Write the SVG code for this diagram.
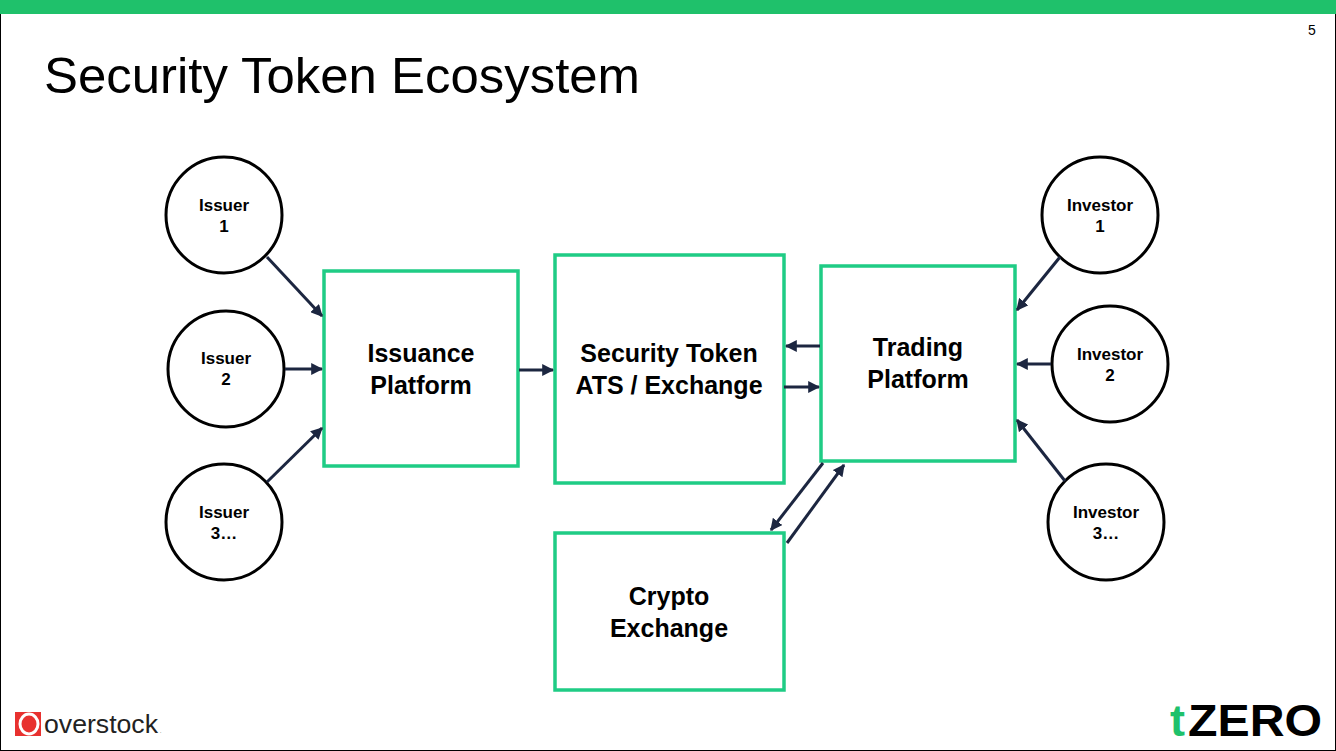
<svg xmlns="http://www.w3.org/2000/svg" width="1336" height="751" viewBox="0 0 1336 751">
<defs>
<style>
.c{fill:#fff;stroke:#000;stroke-width:3}
.b{fill:#fff;stroke:#1fcc85;stroke-width:3.5}
.ct{font-family:"Liberation Sans",Arial,sans-serif;font-weight:bold;font-size:17px;text-anchor:middle;fill:#000}
.bt{font-family:"Liberation Sans",Arial,sans-serif;font-weight:bold;font-size:25px;text-anchor:middle;fill:#000}
.a{stroke:#1c2640;stroke-width:3;fill:none;marker-end:url(#ah)}
</style>
<marker id="ah" viewBox="0 0 10 10" refX="9" refY="5" markerWidth="4" markerHeight="4" orient="auto" markerUnits="strokeWidth"><path d="M0,0L10,5L0,10z" fill="#1c2640"/></marker>
</defs>
<rect x="0.5" y="0.5" width="1335" height="750" fill="#fff" stroke="#000"/>
<rect x="0" y="0" width="1336" height="14" fill="#1fc16b"/>
<text x="1312" y="35" font-family="Liberation Sans,Arial,sans-serif" font-size="14" text-anchor="middle">5</text>
<text x="44" y="93" font-family="Liberation Sans,Arial,sans-serif" font-size="50" fill="#000" textLength="596" lengthAdjust="spacingAndGlyphs">Security Token Ecosystem</text>

<g id="issuer1"><circle class="c" cx="224" cy="215" r="58"/><text class="ct" x="224" y="211">Issuer</text><text class="ct" x="224" y="232">1</text></g>
<g id="issuer2"><circle class="c" cx="226" cy="369" r="58"/><text class="ct" x="226" y="364">Issuer</text><text class="ct" x="226" y="385">2</text></g>
<g id="issuer3"><circle class="c" cx="224" cy="522" r="58"/><text class="ct" x="224" y="518">Issuer</text><text class="ct" x="224" y="539">3…</text></g>
<g id="investor1"><circle class="c" cx="1100" cy="215" r="58"/><text class="ct" x="1100" y="211">Investor</text><text class="ct" x="1100" y="232">1</text></g>
<g id="investor2"><circle class="c" cx="1110" cy="364" r="58"/><text class="ct" x="1110" y="360">Investor</text><text class="ct" x="1110" y="381">2</text></g>
<g id="investor3"><circle class="c" cx="1106" cy="522" r="58"/><text class="ct" x="1106" y="518">Investor</text><text class="ct" x="1106" y="539">3…</text></g>

<g id="issuance"><rect class="b" x="324" y="271" width="194" height="195"/><text class="bt" x="421" y="362">Issuance</text><text class="bt" x="421" y="394">Platform</text></g>
<g id="ats"><rect class="b" x="555" y="255" width="229" height="228"/><text class="bt" x="669" y="362">Security Token</text><text class="bt" x="669" y="394">ATS / Exchange</text></g>
<g id="trading"><rect class="b" x="821" y="266" width="194" height="195"/><text class="bt" x="918" y="356">Trading</text><text class="bt" x="918" y="388">Platform</text></g>
<g id="crypto"><rect class="b" x="555" y="533" width="229" height="157"/><text class="bt" x="669" y="605">Crypto</text><text class="bt" x="669" y="637">Exchange</text></g>

<g id="connectors">
<line class="a" x1="267" y1="257" x2="322" y2="316"/>
<line class="a" x1="285" y1="369" x2="322" y2="369"/>
<line class="a" x1="267" y1="482" x2="322" y2="428"/>
<line class="a" x1="519" y1="370" x2="553" y2="370"/>
<line class="a" x1="820" y1="346" x2="786" y2="346"/>
<line class="a" x1="784" y1="387" x2="819" y2="387"/>
<line class="a" x1="1060" y1="257" x2="1017" y2="310"/>
<line class="a" x1="1051" y1="364" x2="1017" y2="364"/>
<line class="a" x1="1065" y1="481" x2="1017" y2="420"/>
<line class="a" x1="823" y1="463" x2="771" y2="530"/>
<line class="a" x1="787" y1="543" x2="844" y2="465"/>
</g>

<g id="overstock">
<rect x="15" y="712" width="26" height="24" fill="#e8312f"/>
<ellipse cx="29" cy="724" rx="9" ry="10" fill="none" stroke="#fff" stroke-width="3"/>
<text x="44" y="733" font-family="Liberation Sans,Arial,sans-serif" font-size="26" fill="#222" textLength="114" lengthAdjust="spacingAndGlyphs">overstock</text>
<text x="160" y="733" font-family="Liberation Sans,Arial,sans-serif" font-size="5" fill="#222">.</text>
</g>
<g id="tzero">
<text x="1170" y="736" font-family="Liberation Sans,Arial,sans-serif" font-weight="bold" font-size="45" fill="#1fc16b">t</text>
<text x="1188" y="736" font-family="Liberation Sans,Arial,sans-serif" font-weight="bold" font-size="45" fill="#000" textLength="134" lengthAdjust="spacingAndGlyphs">ZERO</text>
</g>
</svg>
